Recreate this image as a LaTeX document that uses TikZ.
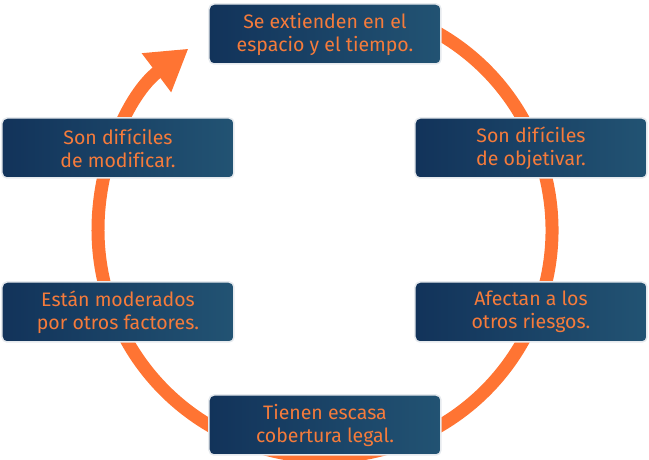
\documentclass[tikz,border=0pt]{standalone}
\usepackage{fontspec}
\setmainfont[Ligatures=NoCommon]{Fira Sans}
\usepackage{tikz}
\usetikzlibrary{positioning}
\usetikzlibrary{arrows.meta}
\definecolor{navyleft}{HTML}{12335A}
\definecolor{navyright}{HTML}{225373}
\definecolor{ringorange}{HTML}{FF7433}
\definecolor{textorange}{HTML}{F57B3B}
\definecolor{boxedge}{HTML}{E6EAEE}
\begin{document}
\begin{tikzpicture}[x=1pt,y=1pt,
box/.style={rounded corners=5pt, draw=boxedge, line width=1.5pt,
left color=navyleft, right color=navyright, text=textorange,
minimum width=232pt, minimum height=60pt, align=center, inner sep=2pt,
font=\fontsize{19.5}{23}\selectfont},
ring/.style={ringorange, line width=13pt, -{Triangle[width=46pt,length=40pt]}}]
\useasboundingbox (-325,-230) rectangle (324,230);
\coordinate (centro) at (0,0);
\draw[ring] ([shift={(62:227)}]centro) arc[start angle=62, end angle=-233, radius=227];
\node[box] (tiempo) at (0,196) {Se extienden en el\\espacio y el tiempo.};
\node[box] (objetivar) at (206,82) {Son difíciles\\de objetivar.};
\node[box] (riesgos) at (206,-82) {Afectan a los\\otros riesgos.};
\node[box] (legal) at (0,-195) {Tienen escasa\\cobertura legal.};
\node[box] (factores) at (-207,-82) {Están moderados\\por otros factores.};
\node[box] (modificar) at (-207,82) {Son difíciles\\de modificar.};
\end{tikzpicture}
\end{document}
